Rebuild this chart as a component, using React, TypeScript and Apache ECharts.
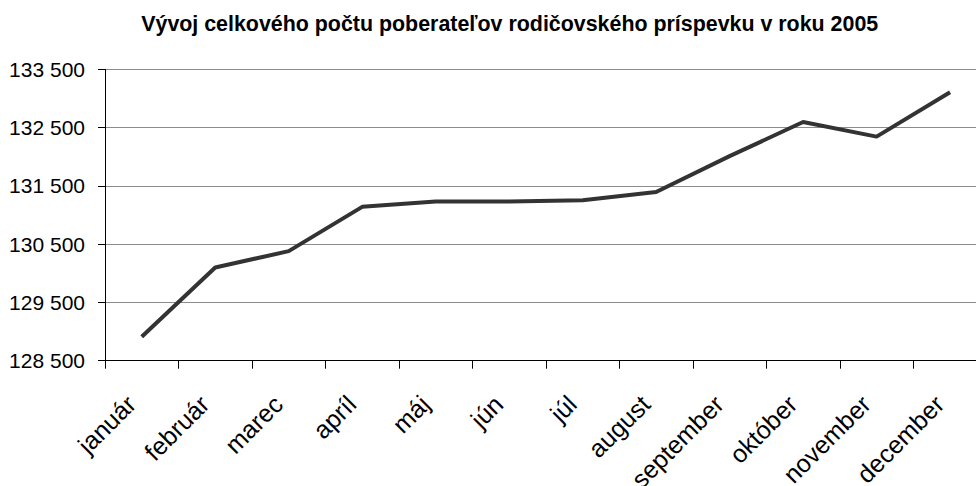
import React, { useEffect, useRef } from "react";
import * as echarts from "echarts";

const TITLE = "Vývoj celkového počtu poberateľov rodičovského príspevku v roku 2005";
const months = ["január", "február", "marec", "apríl", "máj", "jún", "júl", "august", "september", "október", "november", "december"];
const recipients = [128910, 130100, 130380, 131140, 131230, 131230, 131255, 131395, 132010, 132595, 132345, 133105];
const yMin = 128500;
const yMax = 133500;
const yStep = 1000;

const FONT = '"Liberation Sans", Arial, sans-serif';

function fmt(v: number): string {
  const th = Math.floor(v / 1000);
  const rest = String(v % 1000).padStart(3, "0");
  return `${th} ${rest}`;
}

export default function App() {
  const ref = useRef<HTMLDivElement>(null);
  useEffect(() => {
    if (!ref.current) return;
    const chart = echarts.init(ref.current, null, { renderer: "svg" });
    chart.setOption({
      animation: false,
      backgroundColor: "#ffffff",
      graphic: [
        {
          type: "text",
          x: 509.7,
          y: 24.3,
          style: {
            text: TITLE,
            font: `bold 21.4px ${FONT}`,
            fill: "#000000",
            align: "center",
            verticalAlign: "middle",
            textAlign: "center",
            textVerticalAlign: "middle",
          },
        },
      ],
      grid: {
        left: 105,
        right: -10.8,
        top: 69.3,
        bottom: 125.3,
        containLabel: false,
        outerBoundsMode: "none",
      },
      xAxis: {
        type: "category",
        data: months,
        boundaryGap: true,
        axisLine: { show: true, lineStyle: { color: "#000000", width: 1 } },
        axisTick: { show: true, length: 8, alignWithLabel: false, lineStyle: { color: "#000000" } },
        axisLabel: {
          rotate: 45,
          margin: 28.5,
          padding: [0, 15, 0, 0],
          fontSize: 25,
          fontFamily: FONT,
          color: "#000000",
          interval: 0,
        },
        splitLine: { show: false },
      },
      yAxis: {
        type: "value",
        min: yMin,
        max: yMax,
        interval: yStep,
        axisLine: { show: true, lineStyle: { color: "#000000", width: 1 } },
        axisTick: { show: true, length: 7, lineStyle: { color: "#000000" } },
        axisLabel: {
          margin: 20,
          fontSize: 21,
          fontFamily: FONT,
          color: "#000000",
          formatter: (v: number) => fmt(v),
        },
        splitLine: { show: true, lineStyle: { color: "#8c8c8c", width: 1 } },
      },
      series: [
        {
          type: "line",
          data: recipients,
          symbol: "none",
          lineStyle: { color: "#333333", width: 4 },
          itemStyle: { color: "#333333" },
        },
      ],
    });
    return () => chart.dispose();
  }, []);
  return (
    <div
      ref={ref}
      style={{ position: "fixed", left: 0, top: 0, width: 976, height: 486, overflow: "hidden" }}
    />
  );
}
